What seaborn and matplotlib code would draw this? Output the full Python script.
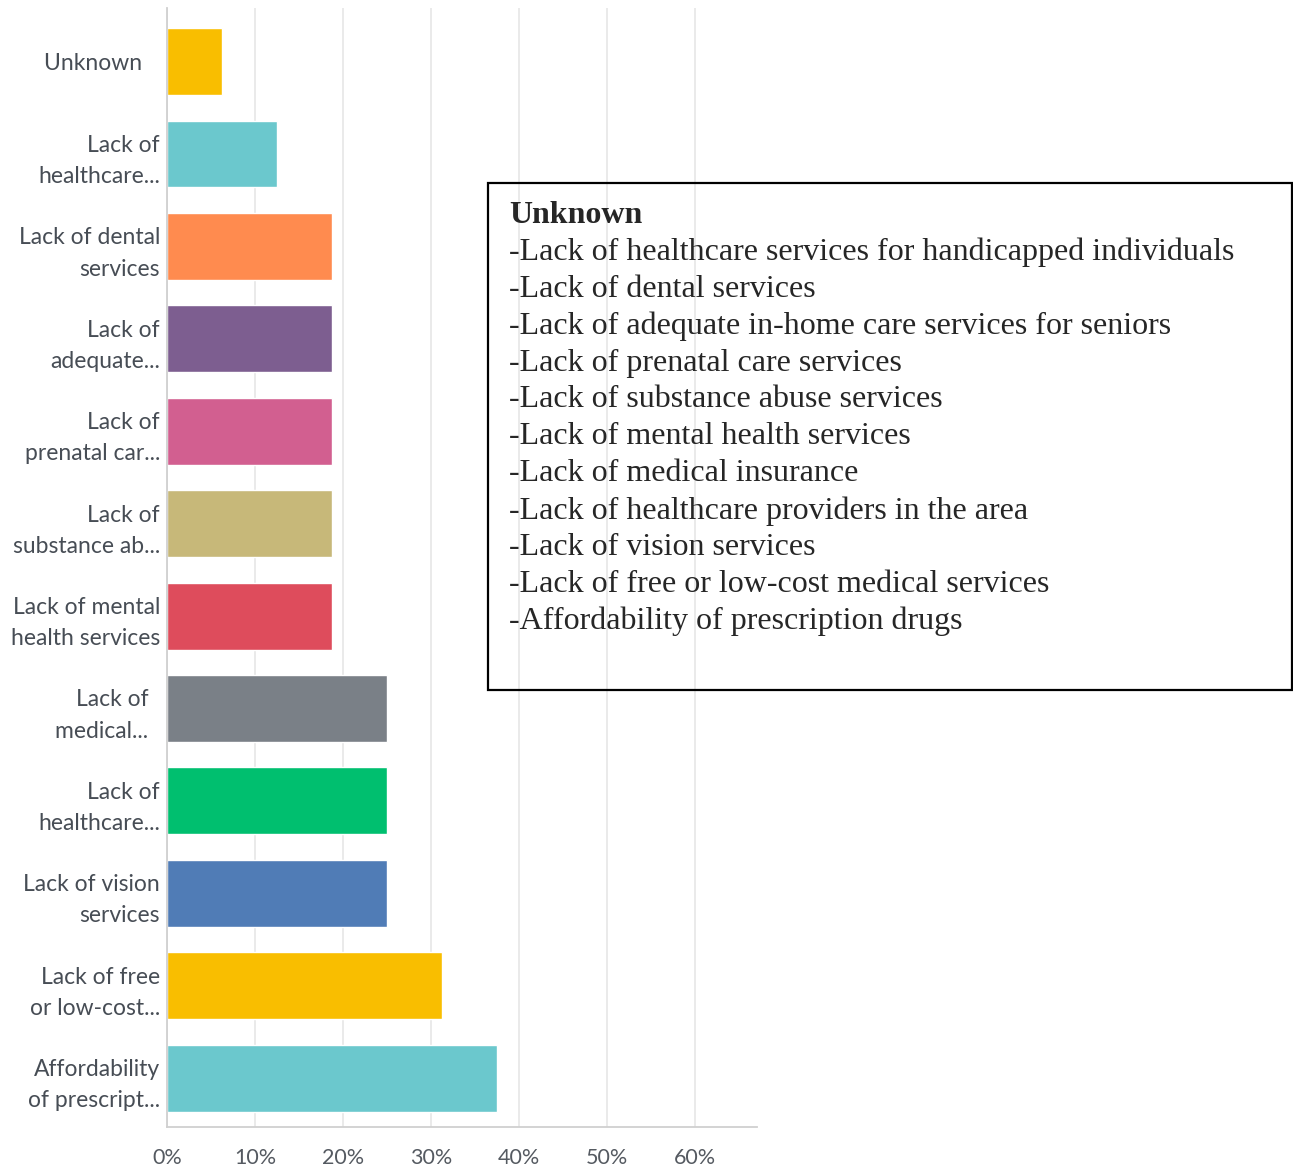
import matplotlib
matplotlib.use("Agg")
import matplotlib.pyplot as plt
import seaborn as sns
import pandas as pd
from matplotlib.patches import Rectangle

# survey answers, top to bottom
categories = [
    "Unknown   ",
    "Lack of\nhealthcare...",
    "Lack of dental\nservices",
    "Lack of\nadequate...",
    "Lack of\nprenatal car...",
    "Lack of\nsubstance ab...",
    "Lack of mental\nhealth services",
    "Lack of  \nmedical...  ",
    "Lack of\nhealthcare...",
    "Lack of vision\nservices",
    "Lack of free\nor low-cost...",
    "Affordability\nof prescript...",
]
values = [6.25, 12.5, 18.75, 18.75, 18.75, 18.75, 18.75, 25.0, 25.0, 25.0, 31.25, 37.5]
colors = ["#F9BE00", "#6BC8CD", "#FF8B4F", "#7D5E90", "#D25F90", "#C7B879",
          "#DE4C5C", "#7A8087", "#00BF6F", "#507CB6", "#F9BE00", "#6BC8CD"]
x_ticks = [0, 10, 20, 30, 40, 50, 60]

box_title = "Unknown"
box_lines = [
    "-Lack of healthcare services for handicapped individuals",
    "-Lack of dental services",
    "-Lack of adequate in-home care services for seniors",
    "-Lack of prenatal care services",
    "-Lack of substance abuse services",
    "-Lack of mental health services",
    "-Lack of medical insurance",
    "-Lack of healthcare providers in the area",
    "-Lack of vision services",
    "-Lack of free or low-cost medical services",
    "-Affordability of prescription drugs",
]

W, H = 1293, 1170
sns.set_style("white")
plt.rcParams["font.family"] = ["Lato", "DejaVu Sans"]

df = pd.DataFrame({"label": [f"{i}" for i in range(len(categories))], "value": values})

fig = plt.figure(figsize=(W / 100, H / 100), dpi=100)
ax = fig.add_axes([167 / W, 1 - 1127 / H, 590 / W, 1119 / H])

sns.barplot(data=df, x="value", y="label", hue="label", palette=colors,
            legend=False, orient="h", width=0.725, ax=ax, saturation=1)

ax.set_xlim(0, 590 / 88 * 10)
ax.set_ylim(11.53, -0.58)
ax.set_xticks(x_ticks)
ax.set_xticklabels([f"{t}%" for t in x_ticks], fontsize=15.5, color="#555a61")
ax.set_yticks(range(len(categories)))
ax.set_yticklabels(categories, fontsize=16.5, color="#474d55", linespacing=1.6)
ax.tick_params(axis="x", length=0, pad=15)
ax.tick_params(axis="y", length=0, pad=5)
ax.set_xlabel("")
ax.set_ylabel("")

ax.grid(axis="x", color="#e8e8e8", lw=1.3)
ax.set_axisbelow(True)
for s in ["top", "right"]:
    ax.spines[s].set_visible(False)
ax.spines["left"].set_color("#d0d0d0")
ax.spines["bottom"].set_color("#d0d0d0")
ax.spines["left"].set_linewidth(1.3)
ax.spines["bottom"].set_linewidth(1.3)

# legend box drawn in figure pixels
fig.patches.append(Rectangle((488 / W, 1 - 690 / H), (W - 489) / W, 507 / H,
                             transform=fig.transFigure, fill=False,
                             edgecolor="black", lw=1.6))
serif = ["Liberation Serif", "DejaVu Serif"]
y0 = 201
step = 36.9
fig.text(509 / W, 1 - y0 / H, box_title, fontsize=23, fontweight="bold",
         family=serif, va="top", ha="left")
for i, line in enumerate(box_lines):
    fig.text(509 / W, 1 - (y0 + step * (i + 1)) / H, line, fontsize=23,
             family=serif, va="top", ha="left")

plt.savefig("out.png", dpi=100)
plt.close()
